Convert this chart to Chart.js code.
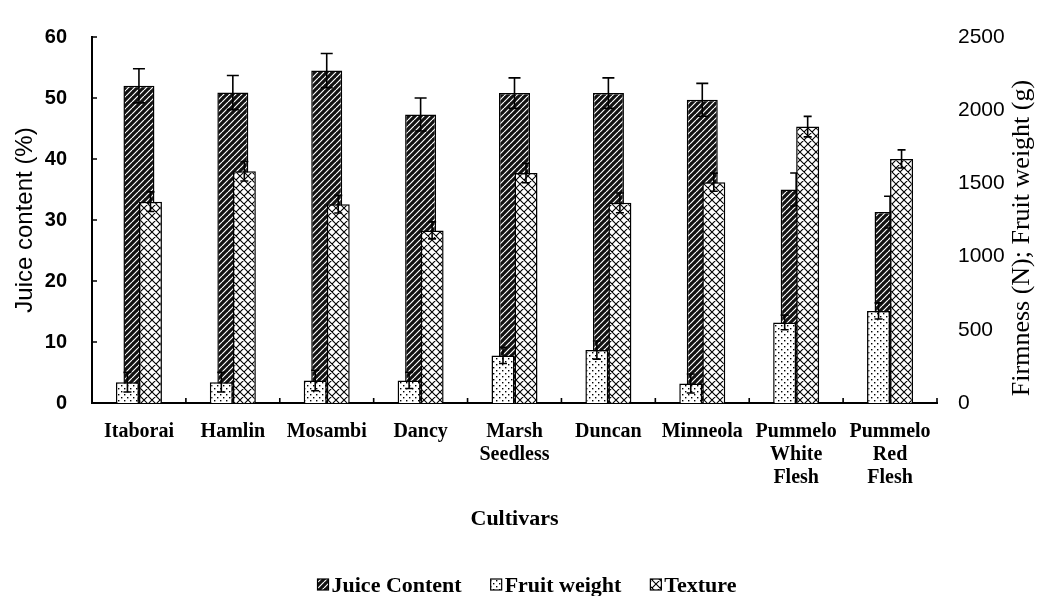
<!DOCTYPE html>
<html>
<head>
<meta charset="utf-8">
<script src="https://cdn.jsdelivr.net/npm/chart.js@4.4.1/dist/chart.umd.min.js"></script>
<style>
  html, body { margin: 0; padding: 0; background: #fff; }
</style>
</head>
<body>
<canvas id="chart" width="1040" height="596"></canvas>
<script>
// Dane
const cultivars = ['Itaborai', 'Hamlin', 'Mosambi', 'Dancy', ['Marsh', 'Seedless'], 'Duncan', 'Minneola',
    ['Pummelo', 'White', 'Flesh'], ['Pummelo', 'Red', 'Flesh']];
const juiceContent = [52.0, 50.9, 54.5, 47.3, 50.8, 50.8, 49.7, 35.0, 31.3];
const juiceErr = [2.8, 2.8, 2.8, 2.7, 2.5, 2.5, 2.7, 2.7, 2.6];
const fruitWeight = [142, 142, 154, 154, 325, 362, 133, 550, 629];
const fruitWeightErr = [67, 67, 70, 55, 55, 62, 65, 50, 55];
const texture = [1375, 1583, 1358, 1179, 1571, 1367, 1508, 1888, 1667];
const textureErr = [67, 67, 60, 58, 67, 67, 62, 70, 62];
const seriesNames = ['Juice Content', 'Fruit weight', 'Texture'];

// Wzory wypełnienia słupków
function makePattern(size, draw) {
    const c = document.createElement('canvas');
    c.width = size;
    c.height = size;
    const g = c.getContext('2d');
    draw(g, size);
    return g.createPattern(c, 'repeat');
}

const juicePattern = makePattern(6, (g, s) => {
    g.fillStyle = '#111';
    g.fillRect(0, 0, s, s);
    g.strokeStyle = '#fff';
    g.lineWidth = 1.2;
    g.beginPath();
    [-s, 0, s].forEach(o => { g.moveTo(o, s); g.lineTo(o + s, 0); });
    g.stroke();
});

const weightPattern = makePattern(6, (g, s) => {
    g.fillStyle = '#fff';
    g.fillRect(0, 0, s, s);
    g.fillStyle = '#000';
    g.fillRect(1, 1, 1.4, 1.4);
    g.fillRect(4, 4, 1.4, 1.4);
});

const texturePattern = makePattern(8, (g, s) => {
    g.fillStyle = '#fff';
    g.fillRect(0, 0, s, s);
    g.strokeStyle = '#000';
    g.lineWidth = 1.1;
    g.beginPath();
    [-s, 0, s].forEach(o => {
        g.moveTo(o, s); g.lineTo(o + s, 0);
        g.moveTo(o, 0); g.lineTo(o + s, s);
    });
    g.stroke();
});

// Słupki błędów rysowane zaraz po każdej serii
const errorBars = {
    id: 'errorBars',
    afterDatasetDraw(chart, args) {
        const ds = chart.data.datasets[args.index];
        if (!ds.errors) return;
        const ctx = chart.ctx;
        const yScale = chart.scales[ds.yAxisID];
        ctx.save();
        ctx.strokeStyle = '#000';
        ctx.lineWidth = 1.6;
        args.meta.data.forEach((bar, i) => {
            const v = ds.data[i];
            const e = ds.errors[i];
            const yHi = yScale.getPixelForValue(v + e);
            const yLo = yScale.getPixelForValue(v - e);
            const half = ds.capWidth / 2;
            ctx.beginPath();
            ctx.moveTo(bar.x, yHi); ctx.lineTo(bar.x, yLo);
            ctx.moveTo(bar.x - half, yHi); ctx.lineTo(bar.x + half, yHi);
            ctx.moveTo(bar.x - half, yLo); ctx.lineTo(bar.x + half, yLo);
            ctx.stroke();
        });
        ctx.restore();
    }
};

// Kreski podziałki do środka, tytuł prawej osi i legenda
const extras = {
    id: 'extras',
    afterDraw(chart) {
        const ctx = chart.ctx;
        const area = chart.chartArea;
        const yScale = chart.scales.y;
        ctx.save();
        ctx.strokeStyle = '#000';
        ctx.lineWidth = 1.6;
        ctx.beginPath();
        yScale.ticks.forEach(t => {
            const y = yScale.getPixelForValue(t.value);
            ctx.moveTo(area.left, y);
            ctx.lineTo(area.left + 5, y);
        });
        const step = (area.right - area.left) / cultivars.length;
        for (let k = 1; k <= cultivars.length; k++) {
            const x = area.left + k * step;
            ctx.moveTo(x, area.bottom);
            ctx.lineTo(x, area.bottom - 5);
        }
        ctx.stroke();

        // tytuł prawej osi (czytany od dołu do góry)
        ctx.fillStyle = '#000';
        ctx.font = '26px "Liberation Serif"';
        ctx.textAlign = 'center';
        ctx.textBaseline = 'middle';
        ctx.translate(1022, 238);
        ctx.rotate(-Math.PI / 2);
        ctx.fillText('Firmness (N); Fruit weight (g)', 0, 0);
        ctx.restore();

        // legenda
        ctx.save();
        ctx.font = 'bold 22px "Liberation Serif"';
        ctx.textBaseline = 'alphabetic';
        ctx.textAlign = 'left';
        const box = 11, gap = 3, spacing = 29;
        const widths = chart.data.datasets.map(ds => box + gap + ctx.measureText(ds.label).width);
        const total = widths.reduce((a, b) => a + b, 0) + spacing * (widths.length - 1);
        let x = 527 - total / 2;
        chart.data.datasets.forEach((ds, i) => {
            ctx.fillStyle = ds.backgroundColor;
            ctx.fillRect(x, 579, box, box);
            ctx.strokeStyle = '#000';
            ctx.lineWidth = 1.2;
            ctx.strokeRect(x, 579, box, box);
            ctx.fillStyle = '#000';
            ctx.fillText(ds.label, x + box + gap, 592);
            x += widths[i] + spacing;
        });
        ctx.restore();
    }
};

new Chart(document.getElementById('chart'), {
    type: 'bar',
    data: {
        labels: cultivars,
        datasets: [
            {
                label: seriesNames[0],
                data: juiceContent,
                errors: juiceErr,
                capWidth: 12,
                backgroundColor: juicePattern,
                borderColor: '#000',
                borderWidth: 1.5,
                xAxisID: 'x',
                yAxisID: 'y',
                grouped: false,
                categoryPercentage: 0.33,
                barPercentage: 1,
                order: 1
            },
            {
                label: seriesNames[1],
                data: fruitWeight,
                errors: fruitWeightErr,
                capWidth: 8,
                backgroundColor: weightPattern,
                borderColor: '#000',
                borderWidth: 1.5,
                xAxisID: 'x',
                yAxisID: 'y1',
                categoryPercentage: 0.49,
                barPercentage: 1,
                order: 0
            },
            {
                label: seriesNames[2],
                data: texture,
                errors: textureErr,
                capWidth: 8,
                backgroundColor: texturePattern,
                borderColor: '#000',
                borderWidth: 1.5,
                xAxisID: 'x',
                yAxisID: 'y1',
                categoryPercentage: 0.49,
                barPercentage: 1,
                order: 0
            }
        ]
    },
    options: {
        responsive: false,
        animation: false,
        layout: { padding: { top: 27, left: 0, right: 0, bottom: 40 } },
        plugins: {
            legend: { display: false },
            tooltip: { enabled: false }
        },
        scales: {
            x: {
                type: 'category',
                offset: true,
                grid: { display: false, drawTicks: false },
                border: { display: true, color: '#000', width: 2 },
                ticks: {
                    color: '#000',
                    font: { family: '"Liberation Serif"', size: 20, weight: 'bold', lineHeight: 1.15 },
                    padding: 17,
                    maxRotation: 0,
                    autoSkip: false
                },
                title: {
                    display: true,
                    text: 'Cultivars',
                    color: '#000',
                    font: { family: '"Liberation Serif"', size: 22, weight: 'bold' },
                    padding: { top: 0, bottom: 23 }
                },
                afterFit: scale => { scale.height = 153; }
            },
            y: {
                position: 'left',
                min: 0,
                max: 60,
                ticks: {
                    stepSize: 10,
                    color: '#000',
                    font: { family: '"Liberation Sans"', size: 20, weight: 'bold' },
                    padding: 25
                },
                grid: { display: false, drawTicks: false },
                border: { display: true, color: '#000', width: 2 },
                title: {
                    display: true,
                    text: 'Juice content (%)',
                    color: '#000',
                    font: { family: '"Liberation Sans"', size: 24 },
                    padding: { top: 11, bottom: 0 }
                },
                afterFit: scale => { scale.width = 92; }
            },
            y1: {
                position: 'right',
                min: 0,
                max: 2500,
                ticks: {
                    stepSize: 500,
                    color: '#000',
                    font: { family: '"Liberation Sans"', size: 21 },
                    padding: 21,
                    callback: value => String(value)
                },
                grid: { display: false, drawTicks: false },
                border: { display: false },
                afterFit: scale => { scale.width = 103; }
            }
        }
    },
    plugins: [errorBars, extras]
});
</script>
</body>
</html>
